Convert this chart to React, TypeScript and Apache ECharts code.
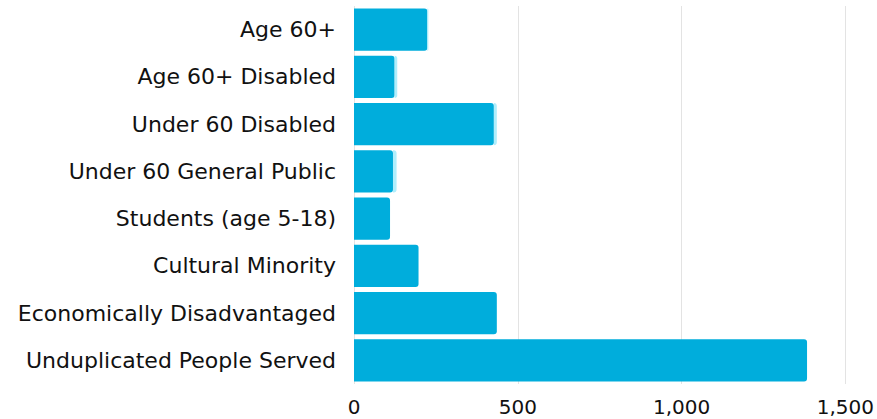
import React, { useEffect, useRef } from "react";
import * as echarts from "echarts";

const categories = [
  "Age 60+",
  "Age 60+ Disabled",
  "Under 60 Disabled",
  "Under 60 General Public",
  "Students (age 5-18)",
  "Cultural Minority",
  "Economically Disadvantaged",
  "Unduplicated People Served",
];
const mainValues = [224, 124, 427, 119, 110, 197, 436, 1383];
const extraValues = [3, 8, 9, 11, 0, 0, 0, 0];
const xTicks = [0, 500, 1000, 1500];

export default function App() {
  const ref = useRef<HTMLDivElement>(null);
  useEffect(() => {
    if (!ref.current) return;
    const chart = echarts.init(ref.current, null, { renderer: "svg" });
    const font = "'DejaVu Sans', sans-serif";
    chart.setOption({
      animation: false,
      grid: { left: 354, right: 25, top: 6, bottom: 35, containLabel: false },
      xAxis: {
        type: "value",
        min: xTicks[0],
        max: xTicks[xTicks.length - 1],
        interval: 500,
        axisLine: { show: false },
        axisTick: { show: false },
        splitLine: { show: true, lineStyle: { color: "#e3e3e3", width: 1 } },
        axisLabel: {
          color: "#111",
          fontSize: 20,
          fontFamily: font,
          margin: 13,
          formatter: (v: number) => v.toLocaleString("en-US"),
        },
      },
      yAxis: {
        type: "category",
        data: categories,
        inverse: true,
        axisLine: { show: false },
        axisTick: { show: false },
        axisLabel: { color: "#111", fontSize: 22, fontFamily: font, margin: 18 },
      },
      series: [
        {
          type: "bar",
          stack: "s",
          data: mainValues,
          barCategoryGap: "11%",
          itemStyle: { color: "#00addc", borderRadius: [0, 3, 3, 0] },
        },
        {
          type: "bar",
          stack: "s",
          data: extraValues,
          itemStyle: { color: "#b0eefc", borderRadius: [0, 3, 3, 0] },
        },
      ],
    });
    return () => chart.dispose();
  }, []);
  return <div ref={ref} style={{ width: 877, height: 419, position: "absolute", left: 0, top: 0 }} />;
}
